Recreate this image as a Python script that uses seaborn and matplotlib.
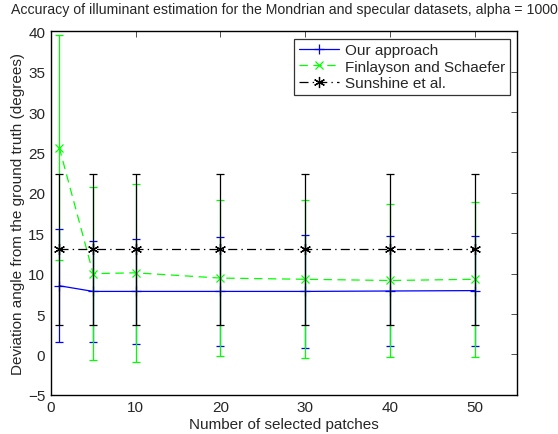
import numpy as np
import pandas as pd
import matplotlib
matplotlib.use("Agg")
import matplotlib.pyplot as plt
from matplotlib.lines import Line2D
import seaborn as sns

# Number of selected patches
patches = [1, 5, 10, 20, 30, 40, 50]

# Mean angular error (degrees) and standard deviation per method
ours_mean = [8.5, 7.8, 7.8, 7.8, 7.8, 7.85, 7.9]
ours_std = [7.0, 6.25, 6.45, 6.7, 6.95, 6.85, 6.8]

finlayson_mean = [25.6, 10.0, 10.1, 9.45, 9.3, 9.15, 9.3]
finlayson_std = [13.9, 10.7, 11.0, 9.7, 9.8, 9.5, 9.6]

sunshine_mean = [13.0, 13.0, 13.0, 13.0, 13.0, 13.0, 13.0]
sunshine_std = [9.3, 9.3, 9.3, 9.3, 9.3, 9.3, 9.3]

method_names = ["Our approach", "Finlayson and Schaefer", "Sunshine et al."]
x_ticks = [0, 10, 20, 30, 40, 50]
y_ticks = [-5, 0, 5, 10, 15, 20, 25, 30, 35, 40]

sns.set_style("white")
plt.rcParams["font.family"] = ["Liberation Sans", "DejaVu Sans"]
plt.rcParams["axes.unicode_minus"] = True
plt.rcParams["lines.scale_dashes"] = False

fig = plt.figure(figsize=(5.58, 4.35), dpi=100)
ax = fig.add_axes([0.091, 0.09, 0.836, 0.836])

# asterisk marker: six spokes
asterisk = (6, 2, 0)
styles = [
    dict(color=(0, 0, 1), ls="-", marker="+", ms=7),
    dict(color=(0, 1, 0), ls=(0, (6, 4)), marker="x", ms=6),
    dict(color=(0, 0, 0), ls=(0, (6.5, 3, 1, 3)), marker=asterisk, ms=8),
]
means = [ours_mean, finlayson_mean, sunshine_mean]
stds = [ours_std, finlayson_std, sunshine_std]

frames = []
for name, m, s in zip(method_names, means, stds):
    frames.append(pd.DataFrame({"patches": patches, "error": m, "std": s, "method": name}))
df = pd.concat(frames, ignore_index=True)

for name, st in zip(method_names, styles):
    sub = df[df["method"] == name]
    ax.errorbar(sub["patches"], sub["error"], yerr=sub["std"], fmt="none",
                ecolor=st["color"], elinewidth=0.9, capsize=3, capthick=0.9)
    sns.lineplot(data=sub, x="patches", y="error", ax=ax, color=st["color"],
                 linestyle=st["ls"], linewidth=0.9, marker=st["marker"],
                 markersize=st["ms"], markeredgewidth=0.9, markeredgecolor=st["color"],
                 legend=False, errorbar=None)

ax.set_xlim(0, 55)
ax.set_ylim(-5, 40)
ax.set_xticks(x_ticks)
ax.set_yticks(y_ticks)
ax.tick_params(direction="in", length=4, width=0.6, top=True, right=True,
               labelsize=11, pad=4, color="#333333")
for sp in ax.spines.values():
    sp.set_visible(True)
    sp.set_linewidth(1.0)
    sp.set_color("black")

ax.set_xlabel("Number of selected patches", fontsize=11, labelpad=2)
ax.set_ylabel("Deviation angle from the ground truth (degrees)", fontsize=11, labelpad=2)
ax.set_title("Accuracy of illuminant estimation for the Mondrian and specular datasets, alpha = 1000",
             fontsize=10.2, pad=13)

handles = [Line2D([], [], color=st["color"], linestyle=st["ls"], marker=st["marker"],
                  markersize=st["ms"], markeredgewidth=0.9, linewidth=0.9) for st in styles]
leg = ax.legend(handles, method_names, loc="upper right", fontsize=11, frameon=True,
                fancybox=False, edgecolor="black", borderaxespad=0.5, handlelength=2.6,
                handletextpad=0.4, labelspacing=0.15, borderpad=0.3)
leg.get_frame().set_linewidth(0.9)

fig.savefig("out.png", dpi=100, facecolor="white")
